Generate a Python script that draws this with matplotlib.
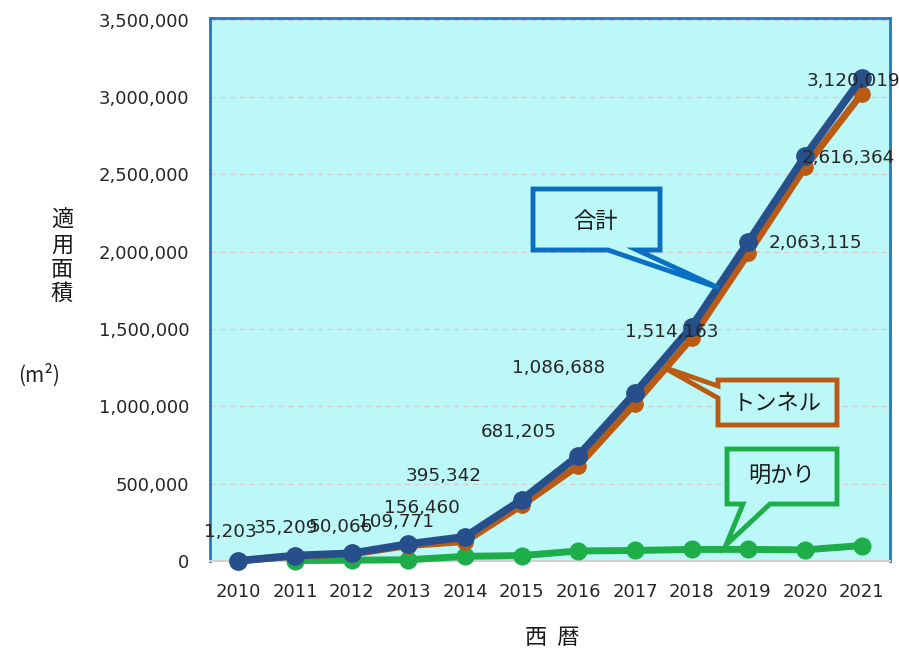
import matplotlib.pyplot as plt
from matplotlib.patches import Polygon
from matplotlib.ticker import FuncFormatter

plt.rcParams['font.family'] = ['DejaVu Sans', 'Noto Sans CJK JP']

# データ
years = ['2010', '2011', '2012', '2013', '2014', '2015', '2016', '2017', '2018', '2019', '2020', '2021']
total = [1203, 35209, 50066, 109771, 156460, 395342, 681205, 1086688, 1514163, 2063115, 2616364, 3120019]
tunnel = [1203, 32000, 45000, 100000, 126000, 360000, 616000, 1018000, 1440000, 1988000, 2545000, 3020000]
lighting = [None, 3000, 5000, 8000, 30000, 35000, 65000, 68000, 75000, 75000, 72000, 100000]

# ラベル位置のずらし（ポイント）
label_offsets = [(-6, 21), (-7, 20), (-8, 19), (-9, 16), (-31, 21), (-56, 17),
                 (-43, 17), (-55, 18), (-14, -4), (48, -1), (31, -1), (-6, -2)]

W, H = 899, 648
fig = plt.figure(figsize=(W / 100, H / 100), dpi=100)
ax = fig.add_axes([210 / W, 1 - 561 / H, 680 / W, 543 / H])
ax.set_facecolor('#BCF8F8')

x = list(range(len(years)))
lx = [i for i, v in zip(x, lighting) if v is not None]
lv = [v for v in lighting if v is not None]

ax.plot(lx, lv, color='#1DAE4A', lw=5, marker='o', ms=12, zorder=3, clip_on=False)
ax.plot(x, tunnel, color='#B95B14', lw=5, marker='o', ms=11, zorder=4, clip_on=False)
ax.plot(x, total, color='#264F8B', lw=5.5, marker='o', ms=12.5, zorder=5, clip_on=False)

for i, v in enumerate(total):
    dx, dy = label_offsets[i]
    ax.annotate(f'{v:,}', (i, v), xytext=(dx, dy), textcoords='offset points',
                ha='center', va='center', fontsize=13.2, color='#262626', zorder=6,
                annotation_clip=False)

ax.set_xlim(-0.5, len(years) - 0.5)
ax.set_ylim(0, 3510000)
ax.set_yticks(range(0, 3500001, 500000))
ax.yaxis.set_major_formatter(FuncFormatter(lambda v, p: f'{int(v):,}'))
ax.set_xticks(x)
ax.set_xticklabels(years)
ax.tick_params(axis='both', length=0, labelsize=13, labelcolor='#262626')
ax.tick_params(axis='x', pad=16)
ax.tick_params(axis='y', pad=15)
ax.grid(axis='y', color='#D6CDCD', ls=(0, (4, 3)), lw=1)
ax.set_axisbelow(True)

for s in ['left', 'top', 'right']:
    ax.spines[s].set_color('#1F77C8')
    ax.spines[s].set_linewidth(2)
ax.spines['bottom'].set_color('#D0D0D0')
ax.spines['bottom'].set_linewidth(1.5)

jp = ['Noto Sans CJK JP', 'DejaVu Sans']
fig.text(62 / W, 1 - 257 / H, '適\n用\n面\n積', ha='center', va='center', fontsize=16,
         family=jp, linespacing=1.08, color='#1A1A1A')
fig.text(39 / W, 1 - 375 / H, '(m²)', ha='center', va='center', fontsize=15,
         family=jp, color='#262626')
fig.text(552 / W, 1 - 637 / H, '西  暦', ha='center', va='center', fontsize=16,
         family=jp, color='#1A1A1A')


# 吹き出し（ピクセル座標、上から）
def callout(points, color, text, tx, ty):
    pts = [(px / W, 1 - py / H) for px, py in points]
    fig.patches.append(Polygon(pts, closed=True, facecolor='#BCF8F8', edgecolor=color,
                               lw=3.5, joinstyle='miter', transform=fig.transFigure, zorder=7))
    fig.text(tx / W, 1 - ty / H, text, ha='center', va='center', fontsize=16,
             family=jp, color='#1A1A1A', zorder=8)


callout([(533, 189), (660, 189), (660, 250), (637, 250), (719, 288), (608, 250), (533, 250)],
        '#0A6FC2', '合計', 596, 221)
callout([(718, 380), (837, 380), (837, 425), (718, 425), (718, 398), (663, 367), (718, 386)],
        '#B95B14', 'トンネル', 777, 404)
callout([(727, 449), (837, 449), (837, 504), (770, 504), (726, 545), (743, 504), (727, 504)],
        '#1DAE4A', '明かり', 782, 476)

fig.savefig('out.png', dpi=100)
